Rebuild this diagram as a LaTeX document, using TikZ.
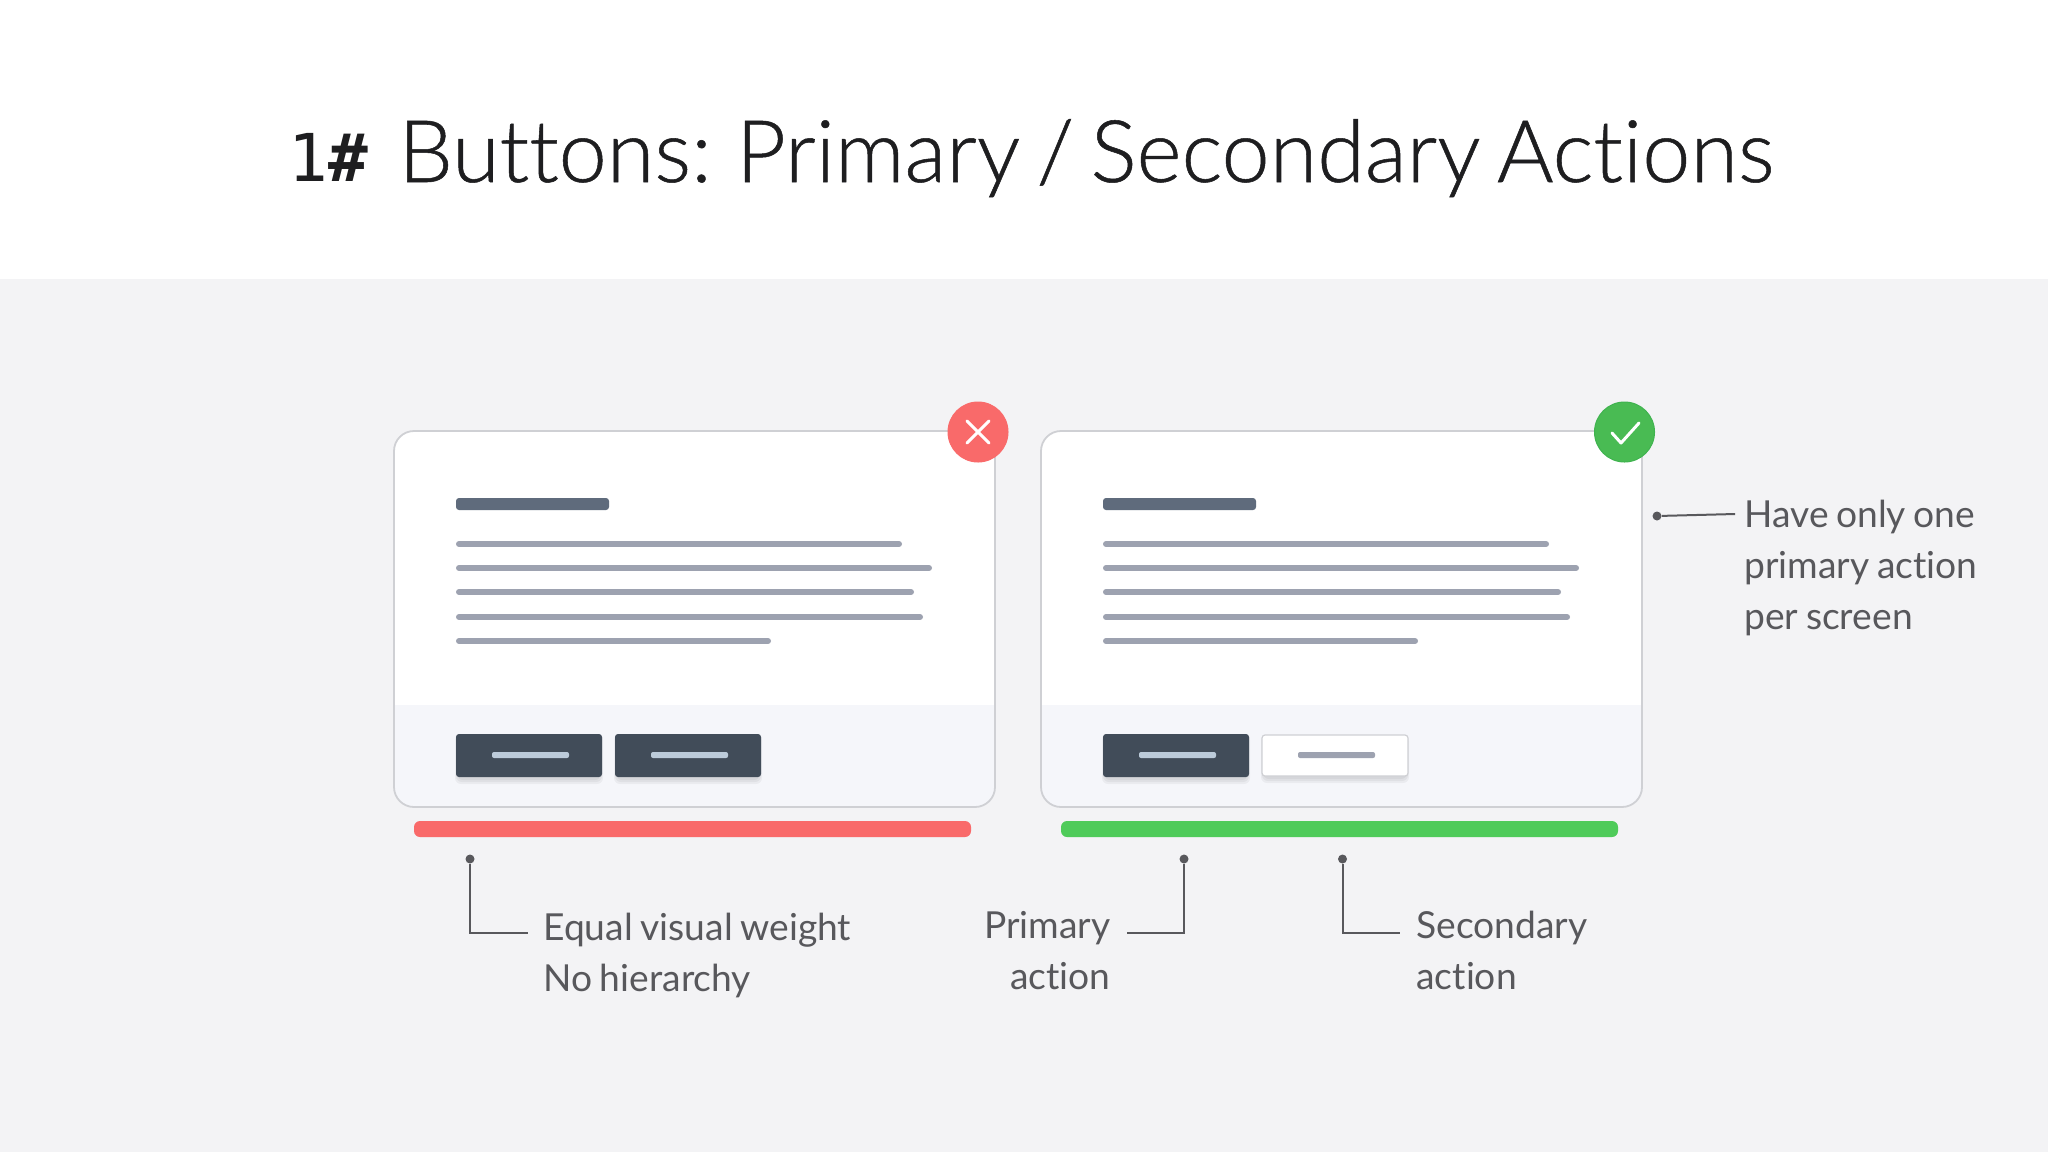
\documentclass[tikz,border=0pt]{standalone}
\usepackage{fontspec}
\setmainfont{Lato}[RawFeature=-liga,WordSpace=0.8]
\newfontfamily\titlefont{Lato Light}[RawFeature={-liga;embolden=0.6},WordSpace=0.7]
\newfontfamily\hashfont{DejaVu Sans Mono}
\definecolor{bandgrey}{HTML}{F3F3F5}
\definecolor{footgrey}{HTML}{F5F6FA}
\definecolor{cardedge}{HTML}{CFD0D4}
\definecolor{headbar}{HTML}{5F6B7C}
\definecolor{linebar}{HTML}{9DA2B0}
\definecolor{btndark}{HTML}{414C59}
\definecolor{btnbar}{HTML}{BCCBDA}
\definecolor{badred}{HTML}{F96A6A}
\definecolor{goodgreen}{HTML}{4FCB5A}
\definecolor{goodedge}{HTML}{3FB34F}
\definecolor{inkgrey}{HTML}{58585C}
\definecolor{titleink}{HTML}{1E1E20}
\tikzset{
  x=0.5pt,y=-0.5pt,
  label/.style={inner sep=0pt,text=inkgrey,font=\fontsize{18.6}{22}\selectfont},
  lead/.style={draw=inkgrey,line width=1pt},
  leaddot/.style={circle,fill=inkgrey,inner sep=0pt,minimum size=4.5pt},
  textline/.style={draw=linebar,line width=3pt,line cap=round},
  shade1/.style={fill=black,fill opacity=0.045,rounded corners=3pt},
}
\newcommand{\softshadow}[4]{%
  \fill[shade1] (#1-1,#2) rectangle (#3+1,#4+7);
  \fill[shade1] (#1,#2) rectangle (#3,#4+5);
  \fill[shade1] (#1+1,#2) rectangle (#3-1,#4+3);
}
\newcommand{\cardbody}[1]{%
  \begin{scope}[xshift=#1*0.5pt]
    \fill[white,rounded corners=10pt] (394,431) rectangle (995,807);
    \begin{scope}
      \clip[rounded corners=10pt] (394,431) rectangle (995,807);
      \fill[footgrey] (394,705) rectangle (995,807);
    \end{scope}
    \draw[cardedge,line width=0.9pt,rounded corners=10pt] (394,431) rectangle (995,807);
    \fill[headbar,rounded corners=1.5pt] (456,498) rectangle (609,510);
    \draw[textline] (459,544) -- (899,544);
    \draw[textline] (459,568) -- (929,568);
    \draw[textline] (459,592) -- (911,592);
    \draw[textline] (459,617) -- (920,617);
    \draw[textline] (459,641) -- (768,641);
    \softshadow{456}{734}{602}{777}
    \fill[btndark,rounded corners=1.5pt] (456,734) rectangle (602,777);
    \fill[btnbar,rounded corners=1pt] (492,752) rectangle (569,758);
  \end{scope}
}
\begin{document}
\begin{tikzpicture}
\useasboundingbox (0,0) rectangle (2048,1152);
\fill[white] (0,0) rectangle (2048,279);
\fill[bandgrey] (0,279) rectangle (2048,1152);

\node[anchor=base west,inner sep=0pt,text=titleink,font=\hashfont\fontsize{33}{40}\selectfont] (hash) at (288,181) {1{\bfseries\#}};
\node[anchor=base west,inner sep=0pt,text=titleink,font=\titlefont\fontsize{43.2}{50}\selectfont] (title) at (398,182) {Buttons: Primary / Secondary Actions};

\cardbody{0}
\cardbody{647}

% left card second button
\softshadow{615}{734}{761}{777}
\fill[btndark,rounded corners=1.5pt] (615,734) rectangle (761,777);
\fill[btnbar,rounded corners=1pt] (651,752) rectangle (728,758);

% right card second button
\softshadow{1262}{735}{1408}{776}
\fill[white,draw=cardedge,line width=0.6pt,rounded corners=1.5pt] (1262,735) rectangle (1408,776);
\fill[linebar,rounded corners=1pt] (1298,752) rectangle (1375,758);

% status bars
\fill[badred,rounded corners=3pt] (414,821) rectangle (971,837);
\fill[goodgreen,rounded corners=3pt] (1061,821) rectangle (1618,837);

% badges
\node[circle,fill=badred,draw=badred,line width=0.5pt,minimum size=30pt,inner sep=0pt] (bad) at (978,432) {};
\draw[white,line width=1.5pt,line cap=round] (967,421) -- (989,443) (989,421) -- (967,443);
\node[circle,fill=goodgreen!92!black,draw=goodedge,line width=0.5pt,minimum size=30pt,inner sep=0pt] (good) at (1624.5,432) {};
\draw[white,line width=1.5pt,line cap=round,line join=round] (1612,433) -- (1621,443) -- (1639,423);

% connectors
\node[leaddot] (d1) at (470,859) {};
\coordinate (e1a) at (470,933);
\coordinate (e1b) at (528,933);
\draw[lead] (d1) -- (e1a) -- (e1b);
\node[leaddot] (d2) at (1184,859) {};
\coordinate (e2a) at (1184,933);
\coordinate (e2b) at (1127,933);
\draw[lead] (d2) -- (e2a) -- (e2b);
\node[leaddot] (d3) at (1342.5,859) {};
\coordinate (e3a) at (1342.5,933);
\coordinate (e3b) at (1400,933);
\draw[lead] (d3) -- (e3a) -- (e3b);
\node[leaddot] (d4) at (1657,516) {};
\coordinate (e4) at (1735,514);
\draw[lead] (d4) -- (e4);

% labels
\node[label,anchor=base west] (l1a) at (543,940) {Equal visual weight};
\node[label,anchor=base west] (l1b) at (543,991) {No hierarchy};
\node[label,anchor=base east] (l2a) at (1111,938) {Primary};
\node[label,anchor=base east] (l2b) at (1111,989) {action};
\node[label,anchor=base west] (l3a) at (1416,938) {Secondary};
\node[label,anchor=base west] (l3b) at (1416,989) {action};
\node[label,anchor=base west] (l4a) at (1744,527) {Have only one};
\node[label,anchor=base west] (l4b) at (1744,578) {primary action};
\node[label,anchor=base west] (l4c) at (1744,629) {per screen};
\end{tikzpicture}
\end{document}
